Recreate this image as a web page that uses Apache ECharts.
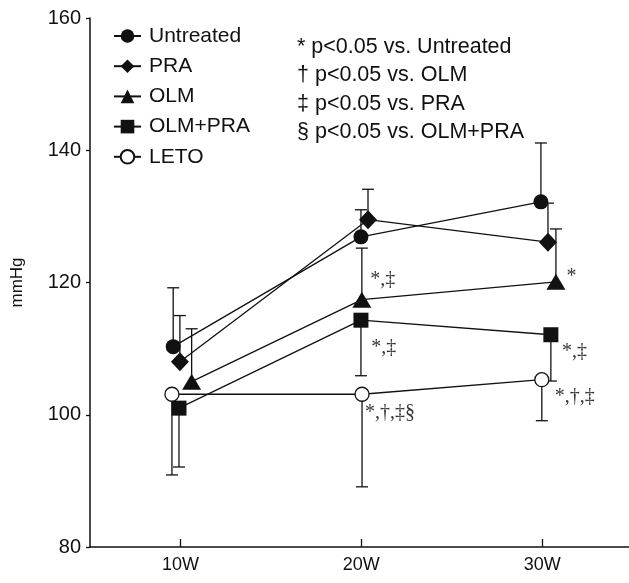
<!DOCTYPE html>
<html>
<head>
<meta charset="utf-8">
<script src="https://cdn.jsdelivr.net/npm/echarts@6/dist/echarts.min.js"></script>
<style>
  html, body { margin: 0; padding: 0; background: #fff; }
  #chart { width: 629px; height: 583px; }
</style>
</head>
<body>
<div id="chart"></div>
<script>
// x axis: weeks
const weekTicks = [10, 20, 30]
const weekLabels = ['10W', '20W', '30W']

// groups (x is slightly dodged in the original figure)
const groups = ['Untreated', 'PRA', 'OLM', 'OLM+PRA', 'LETO']

const untreatedX = [9.6, 19.98, 29.93]
const untreatedY = [110.3, 126.9, 132.2]
const untreatedErr = [119.2, 131.0, 141.1]

const praX = [9.97, 20.37, 30.32]
const praY = [108.0, 129.5, 126.1]
const praErr = [115.0, 134.1, 132.0]

const olmX = [10.62, 20.03, 30.76]
const olmY = [105.0, 117.4, 120.1]
const olmErr = [113.0, 125.2, 128.1]

const olmPraX = [9.92, 19.98, 30.48]
const olmPraY = [101.0, 114.3, 112.1]
const olmPraErr = [92.1, 105.9, 105.1]

const letoX = [9.53, 20.04, 29.98]
const letoY = [103.1, 103.1, 105.3]
const letoErr = [90.9, 89.1, 99.1]

// significance marks next to points
const annotX = [20.5, 20.55, 20.2, 31.35, 31.1, 30.7]
const annotY = [120.4, 110.2, 100.3, 120.8, 109.5, 102.7]
const annotText = ['*,‡', '*,‡', '*,†,‡§', '*', '*,‡', '*,†,‡']

const statLines = [
  '* p<0.05 vs. Untreated',
  '† p<0.05 vs. OLM',
  '‡ p<0.05 vs. PRA',
  '§ p<0.05 vs. OLM+PRA'
]

const font = 'Liberation Sans, Arial, Helvetica, sans-serif'

function pts(xs, ys) {
  return xs.map((x, i) => [x, ys[i]])
}

const seriesDefs = [
  { name: 'Untreated', x: untreatedX, y: untreatedY, err: untreatedErr, symbol: 'circle', size: 15, fill: '#111' },
  { name: 'PRA', x: praX, y: praY, err: praErr, symbol: 'diamond', size: [18, 19], fill: '#111' },
  { name: 'OLM', x: olmX, y: olmY, err: olmErr, symbol: 'triangle', size: [19, 16], fill: '#111' },
  { name: 'OLM+PRA', x: olmPraX, y: olmPraY, err: olmPraErr, symbol: 'rect', size: 15, fill: '#111' },
  { name: 'LETO', x: letoX, y: letoY, err: letoErr, symbol: 'circle', size: 14, fill: '#fff' }
]

// error bar data: [x, mean, end]
const errData = []
seriesDefs.forEach(s => {
  s.x.forEach((x, i) => errData.push([x, s.y[i], s.err[i]]))
})

const chart = echarts.init(document.getElementById('chart'))

const series = []

series.push({
  type: 'custom',
  z: 1,
  silent: true,
  data: errData,
  renderItem(params, api) {
    const p0 = api.coord([api.value(0), api.value(1)])
    const p1 = api.coord([api.value(0), api.value(2)])
    const cap = 6
    return {
      type: 'group',
      children: [
        { type: 'line', shape: { x1: p0[0], y1: p0[1], x2: p1[0], y2: p1[1] }, style: { stroke: '#111', lineWidth: 1.3 } },
        { type: 'line', shape: { x1: p1[0] - cap, y1: p1[1], x2: p1[0] + cap, y2: p1[1] }, style: { stroke: '#111', lineWidth: 1.3 } }
      ]
    }
  }
})

seriesDefs.forEach(s => {
  series.push({
    name: s.name,
    type: 'line',
    z: 3,
    data: pts(s.x, s.y),
    symbol: s.symbol,
    symbolSize: s.size,
    showAllSymbol: true,
    lineStyle: { color: '#111', width: 1.3 },
    itemStyle: { color: s.fill, borderColor: '#111', borderWidth: s.fill === '#fff' ? 1.3 : 0 },
    emphasis: { disabled: true },
    animation: false
  })
})

series.push({
  type: 'scatter',
  z: 5,
  silent: true,
  symbolSize: 0,
  data: annotX.map((x, i) => [x, annotY[i], annotText[i]]),
  label: {
    show: true,
    position: 'right',
    distance: 0,
    formatter: p => p.value[2],
    color: '#000',
    fontSize: 20,
    fontFamily: 'Liberation Serif, Times New Roman, serif'
  }
})

chart.setOption({
  animation: false,
  backgroundColor: '#fff',
  grid: {
    left: 90,
    right: 0,
    top: 18,
    bottom: 36,
    outerBoundsMode: 'none'
  },
  legend: {
    orient: 'vertical',
    left: 108,
    top: 20.5,
    itemWidth: 27,
    itemHeight: 17,
    itemGap: 9.2,
    data: groups,
    textStyle: { fontSize: 21, color: '#111', fontFamily: font, lineHeight: 20, padding: [0, 0, 0, 3] },
    selectedMode: false
  },
  graphic: statLines.map((t, i) => ({
    type: 'text',
    left: 297,
    top: 36 + i * 28.3,
    style: { text: t, fontSize: 21.5, fill: '#111', fontFamily: font }
  })),
  xAxis: {
    type: 'value',
    min: 5,
    max: 34.8,
    splitLine: { show: false },
    axisLine: { lineStyle: { color: '#111', width: 1.5 } },
    axisTick: { inside: true, length: 8, customValues: weekTicks, lineStyle: { color: '#111', width: 1.3 } },
    axisLabel: {
      customValues: weekTicks,
      formatter: v => weekLabels[weekTicks.indexOf(v)],
      fontSize: 18,
      color: '#111',
      fontFamily: font,
      margin: 9
    }
  },
  yAxis: {
    type: 'value',
    min: 80,
    max: 160,
    interval: 20,
    name: 'mmHg',
    nameLocation: 'middle',
    nameRotate: 90,
    nameGap: 64,
    nameTextStyle: { fontSize: 17, color: '#111', fontFamily: font },
    splitLine: { show: false },
    axisLine: { show: true, lineStyle: { color: '#111', width: 1.5 } },
    axisTick: { show: true, length: 4, lineStyle: { color: '#111', width: 1.3 } },
    axisLabel: { fontSize: 20, color: '#111', fontFamily: font, margin: 9 }
  },
  series: series
})
</script>
</body>
</html>
